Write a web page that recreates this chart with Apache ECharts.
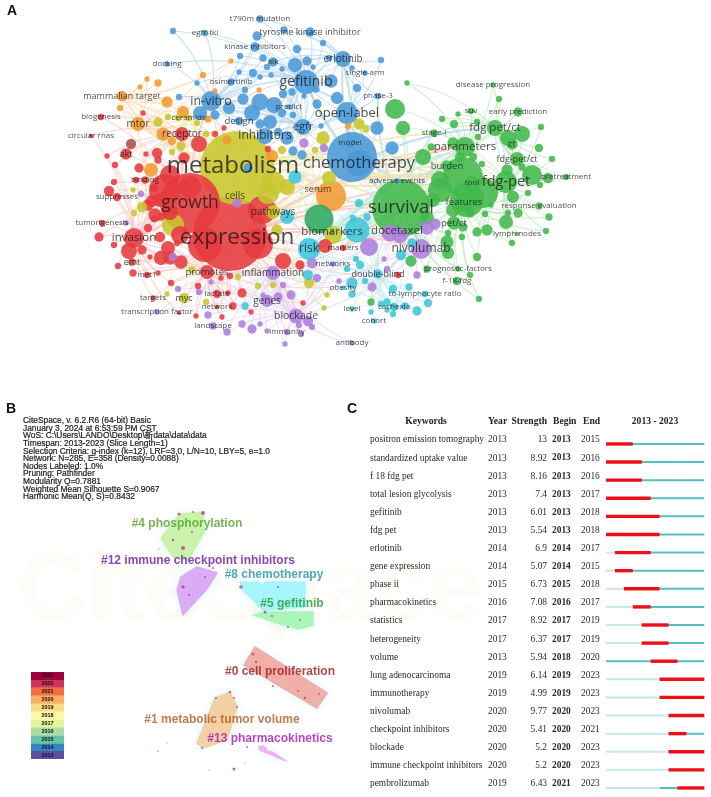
<!DOCTYPE html>
<html><head><meta charset="utf-8">
<style>html,body{margin:0;padding:0;background:#fff}#c{width:711px;height:797px;filter:blur(.3px)}</style>
<script src="https://cdn.jsdelivr.net/npm/echarts@6/dist/echarts.min.js"></script>
</head><body><div id="c"></div>
<script>
// ---------- Panel A: keyword map, [mapX, mapY, weight, label]
const blueNodes=[[260,19,6,'t790m mutation'],[173,31,5],[205,33,5,'egfr-tki'],[257,36,8],[284,30,6],[310,32,8,'tyrosine kinase inhibitor'],[255,47,8,'kinase inhibitors'],[297,49,7],[323,43,5],[240,56,5],[263,58,6],[273,62,8,'alk'],[295,65,13],[307,61,8],[267,67,5],[282,69,4],[343,59,16,'erlotinib'],[313,67,4],[329,58,5],[352,68,4],[306,82,24,'gefitinib'],[331,81,12],[253,73,7],[239,72,4],[260,77,4],[271,75,4],[197,83,4],[167,64,4,'docking'],[231,82,6,'osimertinib'],[245,90,5],[211,101,20,'in-vitro'],[179,97,5],[243,99,10],[260,102,17],[274,105,16],[283,94,7],[292,92,6],[304,96,4],[316,89,6],[337,98,11],[357,88,7],[229,108,11],[200,113,14],[215,115,8],[252,113,16],[282,113,7],[289,107,4,'predict'],[317,104,8],[293,115,5],[347,113,22,'open-label'],[270,122,14],[260,124,8],[303,127,16,'egfr'],[321,126,4],[265,136,16,'inhibitors'],[287,138,12],[278,132,7],[293,151,8],[302,155,8],[352,157,50],[359,163,26,'chemotherapy'],[350,143,8,'model'],[392,148,12],[377,128,12],[381,60,5],[365,73,4,'single-arm'],[378,96,5,'phase-3'],[239,121,7,'design'],[397,181,4,'adverse events'],[248,168,8]];
const greenNodes=[[407,83,4],[493,85,4,'disease progression'],[499,99,5],[471,111,5,'suv'],[518,112,8,'early prediction'],[395,109,20],[403,128,13],[442,119,5],[458,114,4],[454,124,7],[477,122,5],[495,128,16,'fdg pet/ct'],[522,134,16],[508,138,16],[541,127,5],[434,133,6,'stage-i'],[478,137,5],[512,144,10,'ct'],[465,147,20,'parameters'],[453,143,10],[539,148,7],[431,147,6],[517,159,14,'fdg-pet/ct'],[552,159,5],[423,157,16],[447,166,10,'burden'],[473,157,7],[460,157,9],[482,164,5],[506,182,22,'fdg-pet'],[507,170,10],[522,167,6],[472,183,14,'tool'],[463,177,40],[532,175,20],[548,178,9],[566,177,5,'pretreatment'],[440,180,18],[401,208,58,'survival'],[464,202,20,'features'],[467,200,34],[483,193,30],[440,190,24],[453,210,14],[433,200,14],[470,213,8],[427,218,14],[539,206,6,'response evaluation'],[491,205,4],[508,213,5],[518,213,8],[549,217,6],[485,214,5],[506,222,14],[528,193,5],[540,185,5],[513,197,11],[487,230,10],[477,232,8],[462,237,5],[448,233,5],[517,234,3,'lymph nodes'],[546,231,5],[512,243,5],[454,223,12,'pet/ct'],[463,227,8],[447,242,12],[448,253,11],[477,257,7],[411,261,10],[458,269,4,'prognostic-factors'],[427,269,6],[470,275,5],[457,281,7,'f-18-fdg'],[479,299,5],[371,302,6]];
const purpleNodes=[[397,231,4,'docetaxel'],[390,233,17],[400,235,16],[435,224,10],[427,228,12],[369,247,18],[421,249,20,'nivolumab'],[384,259,4],[387,269,5],[417,275,6],[372,287,8],[173,257,7],[141,194,5],[237,203,8],[312,263,9],[333,264,4,'networks'],[273,273,14,'inflammation'],[317,278,7],[291,295,8],[278,297,8],[267,301,11,'genes'],[263,295,4],[283,285,5],[339,281,4],[296,316,15,'blockade'],[308,321,9],[299,325,5],[312,327,5],[211,282,4],[199,292,5],[178,289,5],[208,315,6],[242,324,6],[213,326,6,'landscape'],[252,329,8],[260,324,4],[227,332,6],[267,331,4],[287,332,5,'immunity'],[301,334,5],[285,344,4],[157,312,4,'transcription factor'],[352,343,4,'antibody'],[126,223,4],[304,143,8],[324,148,7]];
const redNodes=[[237,238,4,'expression'],[230,234,74],[258,244,30],[205,245,34],[262,210,28],[190,203,60,'growth'],[165,190,32],[170,212,16],[155,215,12],[160,200,14],[180,235,18],[148,205,10],[170,258,12],[134,238,20,'invasion'],[129,251,16],[142,250,8],[148,228,7],[99,237,8],[114,245,5],[102,223,5,'tumorigenesis'],[154,219,5],[161,217,6],[160,237,9],[168,248,14],[161,258,13],[177,243,5],[150,257,4],[181,262,12],[132,262,6,'emt'],[118,266,5],[133,273,6],[147,275,5,'met1'],[158,273,4],[171,283,5],[198,286,5],[207,272,14,'promotes'],[221,278,4],[230,276,5],[217,294,7,'lactate'],[228,293,4],[242,293,8],[233,306,6],[217,307,3,'network'],[251,312,4],[222,317,4],[196,316,4],[179,313,3],[153,298,4,'targets'],[283,261,16],[300,265,8],[325,246,14],[303,303,4],[343,248,5,'markers'],[398,275,5],[145,180,6,'binding'],[117,197,7,'suppresses'],[109,191,9],[114,182,5],[154,188,7],[152,201,11],[126,154,10,'akt'],[107,156,4],[115,165,5],[146,154,4],[157,153,9],[158,160,6],[139,168,8],[136,180,5],[184,158,10],[170,175,20],[190,187,22],[182,134,14,'receptor'],[199,144,16],[224,128,4],[215,134,5],[143,113,4],[101,117,5,'biogenesis'],[91,136,3,'circular rnas'],[268,149,5]];
const brownNodes=[[131,144,9]];
const orangeNodes=[[122,96,9,'mammalian target'],[158,83,6],[147,79,4],[140,87,4],[203,75,5],[231,61,4],[215,91,4],[259,90,4],[167,102,10],[183,112,11],[120,108,5],[138,124,13,'mtor'],[163,134,12],[172,141,7],[151,170,14],[272,156,11],[208,119,6],[331,196,30],[318,189,3,'serum'],[348,126,5],[227,140,8]];
const yellowNodes=[[233,166,4,'metabolism'],[237,168,74],[273,183,24],[287,187,16],[268,193,22],[173,225,22],[133,190,4],[142,207,9],[134,213,5],[277,230,10],[235,196,3,'cells'],[273,212,14,'pathways'],[333,235,18],[309,283,9],[258,286,5],[273,285,5],[238,277,5],[327,295,4],[324,308,4],[206,302,5],[184,298,9,'myc'],[167,294,4],[192,270,6],[158,122,8],[168,117,5],[178,118,5],[189,118,5,'ceramide'],[197,123,5],[206,134,5],[181,146,8],[172,152,5],[323,138,12],[315,150,5],[359,124,10],[366,129,6],[282,150,7],[329,178,14]];
const cyanNodes=[[295,177,12],[287,217,14],[309,249,22,'risk'],[357,230,25],[359,203,7],[367,217,6],[353,218,5],[412,243,8],[401,255,9],[356,259,5],[360,265,7],[378,274,8,'double-blind'],[347,269,5],[352,283,10],[365,281,5],[352,294,6],[343,288,3,'obesity'],[393,289,7],[409,287,6],[425,294,5,'to-lymphocyte ratio'],[428,303,7],[417,311,8],[405,306,6],[387,302,6],[381,304,5],[394,307,7,'cachexia'],[387,310,4],[393,314,5],[371,312,4],[374,321,4,'cohort'],[352,309,4,'level'],[245,306,6],[308,275,9]];
const tealNodes=[[319,219,29],[332,232,3,'biomarkers']];
const labelPt={'metabolism':24,'expression':22.5,'growth':17.5,'survival':18.5,'chemotherapy':16.5,'gefitinib':14,'fdg-pet':14.5,'in-vitro':12.5,'open-label':13,'inhibitors':12,'invasion':11.5,'biomarkers':11.5,'risk':12,'docetaxel':11.5,'nivolumab':12,'parameters':11.5,'fdg pet/ct':11.5,'erlotinib':10,'egfr':11,'receptor':10,'mtor':10,'design':9.5,'tyrosine kinase inhibitor':9,'inflammation':10,'blockade':10.5,'genes':10,'promotes':9.5,'features':9.5,'burden':9.5,'pet/ct':9.5,'ct':9.5,'serum':9,'cells':10,'pathways':10,'double-blind':9,'emt':9,'akt':9,'myc':9,'fdg-pet/ct':9,'mammalian target':9};
const clusterHubs={blue:['gefitinib','erlotinib','open-label','in-vitro','egfr','chemotherapy'],green:['survival','parameters','fdg-pet','fdg pet/ct','features'],purple:['nivolumab','blockade','inflammation','docetaxel'],red:['expression','growth','invasion','receptor','promotes'],orange:['mtor','mammalian target','serum'],yellow:['metabolism','pathways','ceramide'],cyan:['risk','cachexia','double-blind'],teal:['biomarkers'],brown:['akt']};
const crossLinks=[['metabolism','expression'],['metabolism','growth'],['metabolism','chemotherapy'],['metabolism','survival'],['metabolism','gefitinib'],['metabolism','in-vitro'],['metabolism','inhibitors'],['metabolism','mtor'],['metabolism','receptor'],['expression','survival'],['expression','chemotherapy'],['expression','biomarkers'],['expression','risk'],['expression','nivolumab'],['expression','inflammation'],['expression','fdg-pet'],['growth','receptor'],['growth','in-vitro'],['growth','invasion'],['survival','chemotherapy'],['survival','docetaxel'],['survival','nivolumab'],['survival','biomarkers'],['survival','risk'],['survival','fdg-pet'],['survival','parameters'],['survival','features'],['survival','open-label'],['survival','gefitinib'],['survival','erlotinib'],['survival','phase-3'],['survival','serum'],['survival','markers'],['chemotherapy','docetaxel'],['chemotherapy','open-label'],['chemotherapy','gefitinib'],['chemotherapy','erlotinib'],['chemotherapy','nivolumab'],['chemotherapy','fdg pet/ct'],['chemotherapy','adverse events'],['chemotherapy','burden'],['biomarkers','nivolumab'],['biomarkers','fdg-pet'],['biomarkers','parameters'],['parameters','burden'],['parameters','chemotherapy'],['serum','metabolism'],['serum','features'],['serum','fdg-pet'],['risk','parameters'],['risk','features'],['risk','burden'],['blockade','nivolumab'],['blockade','inflammation'],['pathways','survival'],['pathways','burden'],['pathways','biomarkers'],['cells','features'],['cells','tool'],['cells','stage-i'],['markers','burden'],['markers','tool'],['survival','burden'],['survival','tool'],['survival','stage-i'],['metabolism','features'],['metabolism','tool'],['metabolism','burden'],['expression','features'],['expression','parameters'],['biomarkers','burden'],['biomarkers','tool'],['serum','parameters'],['serum','tool']];
const clusterColor={blue:'#4a98d8',green:'#42b84c',purple:'#ad7edb',red:'#e63a3e',orange:'#f39a32',yellow:'#c8c62c',cyan:'#3fc5dc',teal:'#2da85e',brown:'#a8504e'};
const linkColor={blue:'#b4d6f2',green:'#bce8bd',purple:'#e6d6f6',red:'#f9c8c4',orange:'#fbdcb4',yellow:'#ecebb4',cyan:'#c4ecf4',teal:'#bce8ce',brown:'#eed6d2'};
const clusterArrays={blue:blueNodes,green:greenNodes,purple:purpleNodes,red:redNodes,brown:brownNodes,orange:orangeNodes,yellow:yellowNodes,cyan:cyanNodes,teal:tealNodes};

// ---------- Panel B: CiteSpace cluster view
const citeHeader=['CiteSpace, v. 6.2.R6 (64-bit) Basic','January 3, 2024 at 6:53:59 PM CST','WoS: C:\\Users\\LANDO\\Desktop\\新data\\data\\data','Timespan: 2013-2023 (Slice Length=1)','Selection Criteria: g-index (k=12), LRF=3.0, L/N=10, LBY=5, e=1.0','Network: N=285, E=358 (Density=0.0088)','Nodes Labeled: 1.0%','Pruning: Pathfinder','Modularity Q=0.7881','Weighted Mean Silhouette S=0.9067','Harmonic Mean(Q, S)=0.8432'];
const hullPhospho=[[180,514],[203,512],[204,533],[188,560],[173,557],[161,538]];
const hullImmune=[[197,567],[217,573],[206,590],[183,615],[177,590],[181,577]];
const hullChemo=[[240,582],[305,582],[305,607],[263,610],[243,590]];
const hullGefit=[[253,615],[265,612],[313,612],[313,625],[298,629],[277,623]];
const hullProlif=[[255,647],[327,693],[317,708],[244,665]];
const hullMetab=[[230,692],[237,707],[227,740],[203,748],[197,743],[215,698]];
const hullPharma=[[258,743],[286,761],[260,750]];
const hulls=[[hullPhospho,'#c9f2a4'],[hullImmune,'#dba6f6'],[hullChemo,'#a2f6fc'],[hullGefit,'#a6f5b4'],[hullProlif,'#f2aaa2'],[hullMetab,'#f6cd9e'],[hullPharma,'#f0aef6']];
const clusterNames=[['#4 phosphorylation',187,524,'#52a02a'],['#12 immune checkpoint inhibitors',198,561,'#6c1aa0'],['#8 chemotherapy',274,575,'#2492a8'],['#5 gefitinib',292,604,'#229e30'],['#0 cell proliferation',280,672,'#a01818'],['#1 metabolic tumor volume',222,720,'#b05a22'],['#13 pharmacokinetics',270,739,'#a818b0']];
const citeRings=[[177,742,6],[193,732,4],[269,726,5],[232,779,8],[239,784,4],[248,787,3],[166,565,6],[250,578,6],[262,581,4],[190,564,4],[270,748,4],[260,743,4]];
const citeDots=[[183,548,4],[203,513,4],[179,514,3],[173,540,2.5],[193,512,2],[192,532,2],[183,587,3.5],[189,595,2],[265,612,3],[241,587,3.5],[278,587,2],[253,654,3],[256,662,2.5],[273,686,2],[298,691,2],[305,698,2.5],[319,694,2],[230,692,2.5],[216,698,2],[234,698,2],[237,707,2],[202,748,2],[247,747,2],[234,769,3],[158,751,1.5],[288,627,2],[272,616,2],[300,620,2],[213,568,2],[205,577,2]];
const citeSpecks=[[167,743,1.5],[209,770,1.5],[245,763,1.5],[221,735,1.5],[159,549,1.5],[244,569,1.5]];
const legendYears=['2013','2014','2015','2016','2017','2018','2019','2020','2021','2022','2023'];
const legendColors=['#5e4fa2','#3288bd','#66c2a5','#abdda4','#e6f598','#fdf7a8','#fedc84','#fdae61','#f46d43','#cf3550','#9e0142'];

// ---------- Panel C: citation bursts
const keywords=['positron emission tomography','standardized uptake value','f 18 fdg pet','total lesion glycolysis','gefitinib','fdg pet','erlotinib','gene expression','phase ii','pharmacokinetics','statistics','heterogeneity','volume','lung adenocarcinoma','immunotherapy','nivolumab','checkpoint inhibitors','blockade','immune checkpoint inhibitors','pembrolizumab'];
const firstYears=[2013,2013,2013,2013,2013,2013,2014,2014,2015,2016,2017,2017,2013,2019,2019,2020,2020,2020,2020,2019];
const strengths=[13,8.92,8.16,7.4,6.01,5.54,6.9,5.07,6.73,7.08,8.92,6.37,5.94,6.14,4.99,9.77,5.41,5.2,5.2,6.43];
const beginYears=[2013,2013,2013,2013,2013,2013,2014,2014,2015,2016,2017,2017,2018,2019,2019,2020,2020,2020,2020,2021];
const endYears=[2015,2016,2016,2017,2018,2018,2017,2015,2018,2017,2019,2019,2020,2023,2023,2023,2021,2023,2023,2023];
const tableHeads=['Keywords','Year','Strength','Begin','End','2013 - 2023'];

// ---------- assemble map graph
const nodes=[];const byLabel={};
Object.keys(clusterArrays).forEach(c=>clusterArrays[c].forEach(n=>{nodes.push({c,n});}));
nodes.sort((a,b)=>b.n[2]-a.n[2]);
const bubble=d=>d<14?d+1.3:d;
const graphData=nodes.map((o,i)=>{
  const [x,y,d,l]=o.n;
  if(l) byLabel[l]=i;
  return {name:l||('k'+i),value:[x,y],symbolSize:bubble(d),
    itemStyle:{color:clusterColor[o.c],opacity:.88},
    label:l?{show:true,position:'inside',formatter:l,fontFamily:'Open Sans',color:'rgba(22,22,22,.88)',fontSize:labelPt[l]||8}:{show:false}};
});
const graphLinks=[];
nodes.forEach((o,i)=>{
  const hubs=clusterHubs[o.c].map(h=>byLabel[h]).filter(h=>h!==undefined&&h!==i);
  hubs.sort((a,b)=>{
    const A=nodes[a].n,B=nodes[b].n;
    return Math.hypot(A[0]-o.n[0],A[1]-o.n[1])-Math.hypot(B[0]-o.n[0],B[1]-o.n[1]);});
  hubs.slice(0,2).forEach(h=>graphLinks.push({source:i,target:h,lineStyle:{color:linkColor[o.c],opacity:.7,width:1.1,curveness:.15}}));
});
crossLinks.forEach(([a,b])=>{
  const c=nodes[byLabel[a]].c;
  graphLinks.push({source:byLabel[a],target:byLabel[b],lineStyle:{color:linkColor[c],opacity:.85,width:1.8,curveness:.12}});
});

const serif='"Liberation Serif",serif';
const headAt=[[426,'center'],[488,'left'],[547,'right'],[553,'left'],[583,'left'],[655,'center']];
const chart=echarts.init(document.getElementById('c'),null,{renderer:'canvas'});
chart.setOption({
  animation:false,backgroundColor:'#fff',
  title:[
    {text:'A',left:2,top:-1,textStyle:{fontFamily:'Liberation Sans',fontSize:14,fontWeight:'bold',color:'#111'}},
    {text:'B',left:1,top:397,textStyle:{fontFamily:'Liberation Sans',fontSize:14,fontWeight:'bold',color:'#111'}},
    {text:'C',left:342,top:397,textStyle:{fontFamily:'Liberation Sans',fontSize:14,fontWeight:'bold',color:'#111'}},
    {text:citeHeader.join('\n'),left:23,top:417,padding:0,textStyle:{fontFamily:'Liberation Sans, Noto Sans CJK SC',fontSize:8.4,lineHeight:7.6,fontWeight:'normal',color:'#1a1a1a',textBorderColor:'#1a1a1a',textBorderWidth:.2}}
  ],
  graphic:[{type:'text',left:18,top:545,silent:true,z:0,style:{text:'CiteSpace',font:'bold 96px "Liberation Sans"',fill:'#fefcf6'}}].concat(
    tableHeads.map((t,i)=>({type:'text',x:headAt[i][0],y:422,silent:true,style:{text:t,font:'bold 9.6px '+serif,fill:'#222',textAlign:headAt[i][1],textVerticalAlign:'middle'}}))),
  grid:[
    {left:0,top:0,width:711,height:395},
    {left:0,top:395,width:340,height:402},
    {left:31,top:672,width:33,height:87},
    {left:606,top:434.9,width:98.3,height:364}
  ],
  xAxis:[
    {gridIndex:0,type:'value',min:0,max:711,show:false},
    {gridIndex:1,type:'value',min:0,max:340,show:false},
    {gridIndex:2,type:'value',min:0,max:1,show:false},
    {gridIndex:3,type:'value',min:2013,max:2024,show:false}
  ],
  yAxis:[
    {gridIndex:0,type:'value',min:0,max:395,inverse:true,show:false},
    {gridIndex:1,type:'value',min:395,max:797,inverse:true,show:false},
    {gridIndex:2,type:'category',data:legendYears,show:false},
    {gridIndex:3,type:'category',data:keywords,inverse:true,show:false}
  ],
  series:[
    {type:'graph',coordinateSystem:'cartesian2d',xAxisIndex:0,yAxisIndex:0,layout:'none',silent:true,data:graphData,links:graphLinks,symbol:'circle',edgeSymbol:['none','none'],emphasis:{disabled:true}},
    {type:'custom',xAxisIndex:1,yAxisIndex:1,silent:true,data:hulls.map((h,i)=>[i,0]),encode:{x:0,y:1},clip:false,
      renderItem:(p,api)=>{
        const [pts,col]=hulls[p.dataIndex];
        return {type:'polygon',shape:{points:pts.map(q=>api.coord(q))},style:{fill:col,stroke:col,lineWidth:1.5,opacity:.95,lineJoin:'round',shadowBlur:10,shadowColor:'rgba(190,240,245,.45)'}};
      }},
    {type:'scatter',xAxisIndex:1,yAxisIndex:1,silent:true,symbol:'circle',data:citeSpecks,symbolSize:v=>v[2],itemStyle:{color:'#a8a8a8'}},
    {type:'scatter',xAxisIndex:1,yAxisIndex:1,silent:true,symbol:'circle',data:citeDots,symbolSize:v=>v[2],itemStyle:{color:'#c0407c'}},
    {type:'scatter',xAxisIndex:1,yAxisIndex:1,silent:true,symbol:'emptyCircle',data:citeRings,symbolSize:v=>v[2],itemStyle:{color:'#fff',borderColor:'#c8304e',borderWidth:1.4}},
    {type:'scatter',xAxisIndex:1,yAxisIndex:1,silent:true,symbolSize:0,z:8,
      data:clusterNames.map(c=>({name:c[0],value:[c[1],c[2]],label:{color:c[3]}})),
      label:{show:true,position:'inside',formatter:'{b}',fontFamily:'Liberation Sans',fontWeight:'bold',fontSize:12}},
    {type:'bar',xAxisIndex:2,yAxisIndex:2,silent:true,barWidth:'100%',
      data:legendYears.map((y,i)=>({value:1,itemStyle:{color:legendColors[i]}})),
      label:{show:true,position:'inside',formatter:'{b}',fontSize:5.5,fontWeight:'bold',color:'#111',fontFamily:'Liberation Sans'}},
    {type:'custom',xAxisIndex:3,yAxisIndex:3,silent:true,clip:false,
      data:keywords.map((k,i)=>[beginYears[i],i]),encode:{x:0,y:1},
      renderItem:(p,api)=>{
        const i=p.dataIndex;
        const y=api.coord([2013,i])[1];
        const X=v=>api.coord([v,i])[0];
        const seg=(a,b,h,col)=>({type:'rect',shape:{x:X(a),y:y-h/2,width:X(b)-X(a),height:h},style:{fill:col}});
        const tx=(t,x,w,al)=>({type:'text',style:{text:String(t),x,y:y-4,font:(w?'bold ':'')+'9.4px '+serif,fill:'#2a2a2a',textAlign:al||'left',textVerticalAlign:'middle'}});
        const ch=[
          seg(2013,firstYears[i],2,'#c6e8e8'),
          seg(firstYears[i],2024,2,'#54bfbf'),
          seg(beginYears[i],endYears[i]+1,3.4,'#ef0f16'),
          tx(keywords[i],370,false),tx(firstYears[i],488,false),
          tx(strengths[i],547,false,'right'),tx(beginYears[i],552,true),tx(endYears[i],581,false)];
        return {type:'group',children:ch};
      }}
  ]
});
</script></body></html>
